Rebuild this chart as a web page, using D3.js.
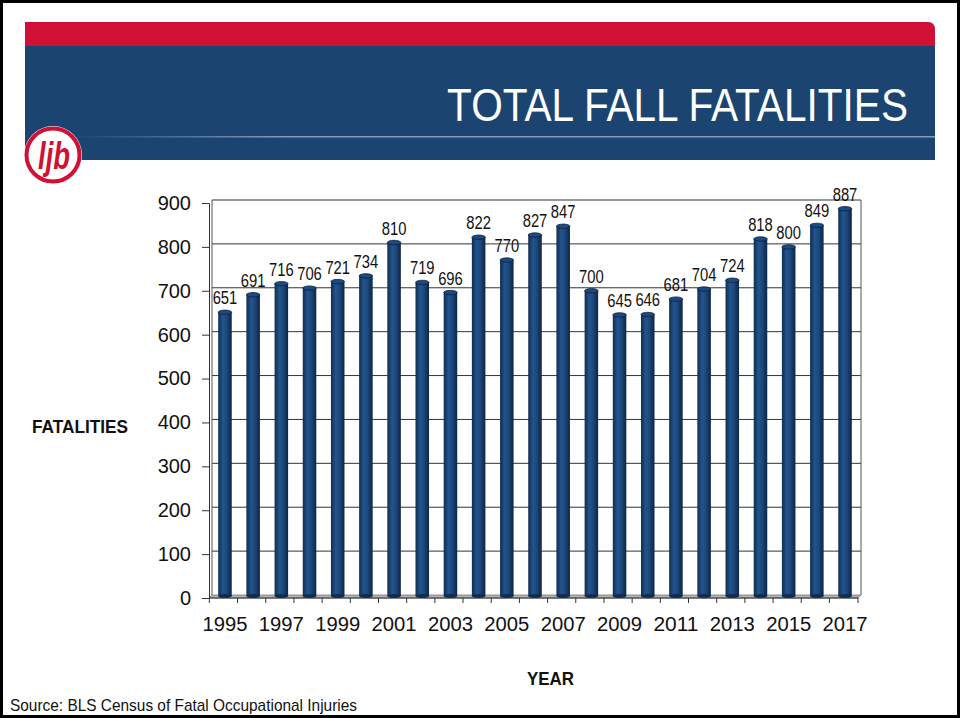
<!DOCTYPE html>
<html><head><meta charset="utf-8">
<script src="https://cdn.jsdelivr.net/npm/d3@7"></script>
<style>
body{margin:0;background:#fff;}
svg{display:block;font-family:"Liberation Sans",Arial,sans-serif;}
</style></head>
<body><svg id="c" width="960" height="718"></svg>
<script>
const years = [1995,1996,1997,1998,1999,2000,2001,2002,2003,2004,2005,2006,2007,2008,2009,2010,2011,2012,2013,2014,2015,2016,2017];
const fatalities = [651,691,716,706,721,734,810,719,696,822,770,827,847,700,645,646,681,704,724,818,800,849,887];
const yTicks = [0,100,200,300,400,500,600,700,800,900];
const xTickLabels = [1995,1997,1999,2001,2003,2005,2007,2009,2011,2013,2015,2017];

const svg = d3.select("#c");
const defs = svg.append("defs");

function narrow(sel, f){
  sel.each(function(){
    const w = this.getComputedTextLength();
    d3.select(this).attr("textLength", w*f).attr("lengthAdjust","spacingAndGlyphs");
  });
  return sel;
}
function fitW(sel, w){
  return sel.attr("textLength", w).attr("lengthAdjust","spacingAndGlyphs");
}

// frame
svg.append("rect").attr("x",1.5).attr("y",1.5).attr("width",957).attr("height",715)
  .attr("fill","none").attr("stroke","#000").attr("stroke-width",3);

// header bands
svg.append("path").attr("d","M25,22 H928 Q935,22 935,30 V46 H25 Z").attr("fill","#d01034");
svg.append("rect").attr("x",25).attr("y",46).attr("width",910).attr("height",114).attr("fill","#1b4471");
const lg = defs.append("linearGradient").attr("id","hl").attr("x1","0").attr("x2","1");
lg.append("stop").attr("offset","0").attr("stop-color","#8fa6c4").attr("stop-opacity",0);
lg.append("stop").attr("offset","0.25").attr("stop-color","#8fa6c4").attr("stop-opacity",0.9);
lg.append("stop").attr("offset","1").attr("stop-color","#8fa6c4").attr("stop-opacity",0.9);
svg.append("rect").attr("x",70).attr("y",136).attr("width",865).attr("height",1.5).attr("fill","url(#hl)");
const title = svg.append("text").attr("x",0).attr("y",0).attr("text-anchor","end")
  .attr("fill","#fff").attr("font-size",46).text("TOTAL FALL FATALITIES");
const tw = title.node().getComputedTextLength();
title.attr("transform",`translate(908,121) scale(${461/tw},1)`);

// logo
const logo = svg.append("g").attr("transform","translate(53,155)");
logo.append("circle").attr("r",29).attr("fill","#fff");
logo.append("circle").attr("r",26.5).attr("fill","#fff").attr("stroke","#d01034").attr("stroke-width",4);
logo.append("text").attr("x",1).attr("y",14).attr("text-anchor","middle").attr("fill","#d01034")
  .attr("font-size",38).attr("font-weight","bold").attr("font-style","italic").text("ljb").call(narrow,0.72);

// chart
const pLeft=209, pRight=861, pTop=203, pBottom=598, dx=3, dy=-3;
const x = d3.scaleBand().domain(years).range([pLeft+dx,858]).paddingInner(0.52).paddingOuter(0.22);
const y = d3.scaleLinear().domain([0,900]).range([pBottom,pTop]);

// back wall gridlines
svg.append("g").selectAll("line").data(yTicks.filter(d=>d>0)).join("line")
  .attr("x1",pLeft+dx).attr("x2",pRight).attr("y1",d=>y(d)+dy).attr("y2",d=>y(d)+dy)
  .attr("stroke","#333").attr("stroke-width",1);
svg.append("line").attr("x1",pLeft+dx).attr("x2",pLeft+dx).attr("y1",y(900)+dy).attr("y2",pBottom+dy).attr("stroke","#555");
svg.append("line").attr("x1",pRight).attr("x2",pRight).attr("y1",y(900)+dy).attr("y2",pBottom+dy).attr("stroke","#555");
// floor
svg.append("path").attr("d",`M${pLeft},${pBottom} L${pLeft+dx},${pBottom+dy} L${pRight},${pBottom+dy} L${pRight-dx},${pBottom} Z`)
  .attr("fill","#b3b3b3").attr("stroke","#777").attr("stroke-width",0.8);

// bars as cylinders
const bg = defs.append("linearGradient").attr("id","bar").attr("x1","0").attr("x2","1");
bg.append("stop").attr("offset","0").attr("stop-color","#0f2d52");
bg.append("stop").attr("offset","0.35").attr("stop-color","#23548c");
bg.append("stop").attr("offset","0.6").attr("stop-color","#1d4a7e");
bg.append("stop").attr("offset","1").attr("stop-color","#0c2546");
const bw = x.bandwidth();
const bars = svg.append("g").selectAll("g").data(years.map((yr,i)=>({yr,v:fatalities[i]}))).join("g");
bars.append("rect").attr("x",d=>x(d.yr)).attr("y",d=>y(d.v)).attr("width",bw)
  .attr("height",d=>pBottom-2-y(d.v)).attr("fill","url(#bar)");
bars.append("ellipse").attr("cx",d=>x(d.yr)+bw/2).attr("cy",pBottom-2).attr("rx",bw/2).attr("ry",2).attr("fill","#0f2d52");
bars.append("ellipse").attr("cx",d=>x(d.yr)+bw/2).attr("cy",d=>y(d.v)).attr("rx",bw/2).attr("ry",2.2)
  .attr("fill","#1c4a80").attr("stroke","#0a2142").attr("stroke-width",0.8);
bars.append("text").attr("x",d=>x(d.yr)+bw/2).attr("y",d=>y(d.v)-8).attr("text-anchor","middle")
  .attr("font-size",18).attr("fill","#111").text(d=>d.v).call(narrow,0.82);

// y axis
const yAxis = svg.append("g").attr("transform",`translate(${pLeft},0)`)
  .call(d3.axisLeft(y).tickValues(yTicks).tickSize(7).tickPadding(11));
yAxis.select(".domain").attr("stroke","#333");
yAxis.selectAll(".tick line").attr("stroke","#333");
yAxis.selectAll("text").attr("font-size",20).attr("fill","#111").attr("font-family","Liberation Sans");

// x axis
svg.append("line").attr("x1",pLeft).attr("x2",pRight-dx).attr("y1",pBottom).attr("y2",pBottom).attr("stroke","#333");
const bounds = years.map(d=>x(d)-x.step()*x.paddingInner()/2-dx/2).concat([pRight-dx]);
svg.append("g").selectAll("line").data(bounds).join("line")
  .attr("x1",d=>d).attr("x2",d=>d).attr("y1",pBottom).attr("y2",pBottom+5).attr("stroke","#333");
svg.append("g").selectAll("text").data(xTickLabels).join("text")
  .attr("x",d=>x(d)+bw/2).attr("y",pBottom+33).attr("text-anchor","middle")
  .attr("font-size",20).attr("fill","#111").text(d=>d).call(fitW,45);

// axis titles
svg.append("text").attr("x",32).attr("y",433).attr("font-weight","bold")
  .attr("font-size",19).attr("fill","#111").text("FATALITIES").call(fitW,96);
svg.append("text").attr("x",527).attr("y",685).attr("font-weight","bold")
  .attr("font-size",19).attr("fill","#111").text("YEAR").call(fitW,47);
svg.append("text").attr("x",10).attr("y",711).attr("font-size",17)
  .attr("fill","#111").text("Source:  BLS Census of Fatal Occupational Injuries").call(fitW,347);
</script></body></html>
